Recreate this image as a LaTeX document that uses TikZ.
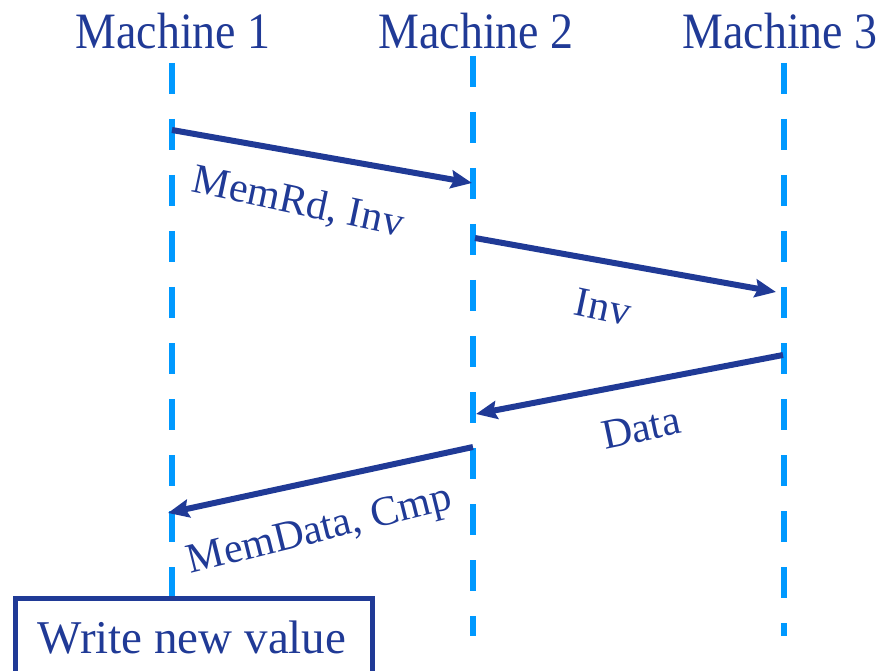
\documentclass[tikz,border=0pt]{standalone}
\usepackage{fontspec}
\setmainfont{Liberation Serif}
\newfontfamily\titlefont[FakeStretch=0.9]{Liberation Serif}
\usetikzlibrary{arrows.meta}
\definecolor{ink}{RGB}{32,58,150}
\definecolor{lifeblue}{RGB}{0,153,255}
\tikzset{
  title/.style={text=ink, font=\titlefont\fontsize{51}{51}\selectfont, anchor=base, inner sep=0pt},
  msglabel/.style={text=ink, font=\fontsize{42}{42}\selectfont, inner sep=0pt},
  lifeline/.style={draw=lifeblue, line width=6pt, dash pattern=on 31pt off 25pt},
  msg/.style={draw=ink, line width=6pt, -{Stealth[length=21pt,width=18pt,inset=3pt]}},
  actbox/.style={draw=ink, line width=5pt}
}
\begin{document}
\begin{tikzpicture}[x=1pt, y=-1pt]
\useasboundingbox (0,0) rectangle (884,671);

% machine headings
\node[title] (t1) at (173,49) {Machine 1};
\node[title] (t2) at (476,49) {Machine 2};
\node[title] (t3) at (780,49) {Machine 3};

% lifeline end points
\coordinate (l1top) at (172,63);
\coordinate (l1bot) at (172,597);
\coordinate (l2top) at (473,56);
\coordinate (l2bot) at (473,636);
\coordinate (l3top) at (784,63);
\coordinate (l3bot) at (784,636);

\draw[lifeline] (l1top) -- (l1bot);
\draw[lifeline] (l2top) -- (l2bot);
\draw[lifeline] (l3top) -- (l3bot);

% message end points on the lifelines
\coordinate (a1s) at (172,130);
\coordinate (a1e) at (472,183);
\coordinate (a2s) at (475,238);
\coordinate (a2e) at (776,292);
\coordinate (a3s) at (783,355);
\coordinate (a3e) at (476,414);
\coordinate (a4s) at (473,447);
\coordinate (a4e) at (168,513);

\draw[msg] (a1s) -- (a1e);
\draw[msg] (a2s) -- (a2e);
\draw[msg] (a3s) -- (a3e);
\draw[msg] (a4s) -- (a4e);

% message labels
\node[msglabel, rotate=-12] (lb1) at (298,203) {MemRd, Inv};
\node[msglabel, rotate=-12] (lb2) at (603,307) {Inv};
\node[msglabel, rotate=12] (lb3) at (641,428) {Data};
\node[msglabel, rotate=14] (lb4) at (320,532) {MemData, Cmp};

% action box on machine 1, running past the lower edge
\coordinate (bx1) at (15,700);
\coordinate (bx2) at (372,700);
\draw[actbox] (bx1) |- (193,598) -| (bx2);
\node[text=ink, font=\fontsize{47}{47}\selectfont, anchor=base] (wr) at (192,653) {Write new value};
\end{tikzpicture}
\end{document}
